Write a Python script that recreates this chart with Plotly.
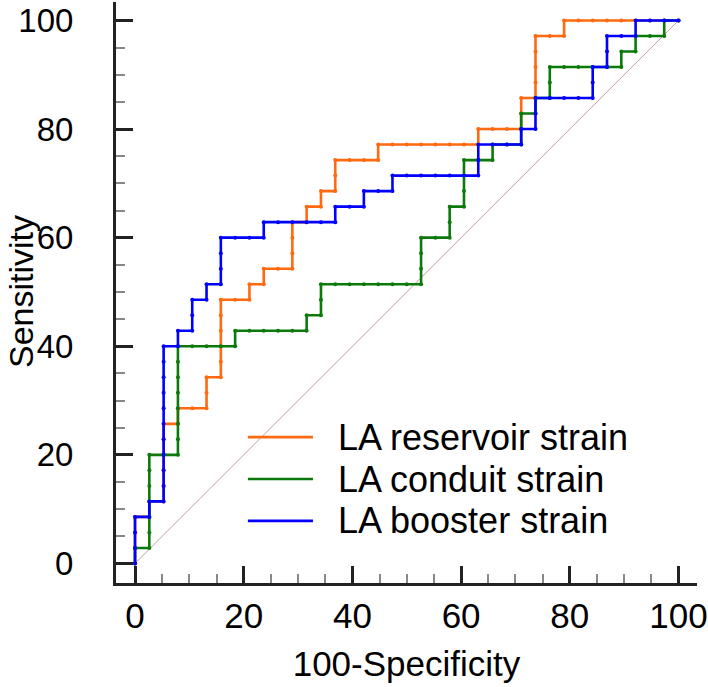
import plotly.graph_objects as go

# ROC data: counts of false positives (of 38 negatives) and true positives (of 35 positives)
n_negative = 38
n_positive = 35

series_names = ["LA reservoir strain", "LA conduit strain", "LA booster strain"]
series_colors = ["#ff6a10", "#0b7a0b", "#0000ff"]

reservoir_fp = [0, 0, 0, 0, 1, 1, 2, 2, 2, 2, 2, 2, 3, 3, 4, 5, 5, 5,
                6, 6, 6, 6, 6, 6, 7, 8, 8, 9, 9, 10, 11, 11, 11, 11, 12, 12, 13, 13,
                14, 14, 14, 15, 16, 17, 17, 18, 19, 20, 21, 22, 23, 24, 24,
                25, 26, 27, 27, 27, 28, 28, 28, 28, 28, 29, 30, 30,
                31, 32, 33, 34, 35, 36, 37, 38]
reservoir_tp = [0, 1, 2, 3, 3, 4, 4, 5, 6, 7, 8, 9, 9, 10, 10, 10, 11, 12,
                12, 13, 14, 15, 16, 17, 17, 17, 18, 18, 19, 19, 19, 20, 21, 22, 22, 23, 23, 24,
                24, 25, 26, 26, 26, 26, 27, 27, 27, 27, 27, 27, 27, 27, 28,
                28, 28, 28, 29, 30, 30, 31, 32, 33, 34, 34, 34, 35,
                35, 35, 35, 35, 35, 35, 35, 35]

conduit_fp = [0, 0, 1, 1, 1, 1, 1, 1, 1, 2, 3, 3, 3, 3, 3, 3, 3, 3,
              4, 5, 6, 7, 7, 8, 9, 10, 11, 12, 12, 13, 13, 13,
              14, 15, 16, 17, 18, 19, 20, 20, 20, 20, 21, 22, 22, 22,
              23, 23, 23, 23, 24, 25, 25, 26, 27, 27, 27, 28, 28,
              29, 29, 29, 30, 31, 32, 33, 34, 34, 35, 35, 36, 37, 37, 38]
conduit_tp = [0, 1, 1, 2, 3, 4, 5, 6, 7, 7, 7, 8, 9, 10, 11, 12, 13, 14,
              14, 14, 14, 14, 15, 15, 15, 15, 15, 15, 16, 16, 17, 18,
              18, 18, 18, 18, 18, 18, 18, 19, 20, 21, 21, 21, 22, 23,
              23, 24, 25, 26, 26, 26, 27, 27, 27, 28, 29, 29, 30,
              30, 31, 32, 32, 32, 32, 32, 32, 33, 33, 34, 34, 34, 35, 35]

booster_fp = [0, 0, 0, 0, 1, 1, 2, 2, 2, 2, 2, 2, 2, 2, 2, 2, 2, 3, 3, 4, 4, 4,
              5, 5, 6, 6, 6, 6, 7, 8, 9, 9, 10, 11, 12, 13, 14, 14, 15, 16, 16,
              17, 18, 18, 19, 20, 21, 22, 23, 24, 24, 24, 25, 26, 27, 27,
              28, 28, 28, 29, 30, 31, 32, 32, 32, 33, 33, 33, 34, 35, 35, 36, 37, 38]
booster_tp = [0, 1, 2, 3, 3, 4, 4, 5, 6, 7, 8, 9, 10, 11, 12, 13, 14, 14, 15, 15, 16, 17,
              17, 18, 18, 19, 20, 21, 21, 21, 21, 22, 22, 22, 22, 22, 22, 23, 23, 23, 24,
              24, 24, 25, 25, 25, 25, 25, 25, 25, 26, 27, 27, 27, 27, 28,
              28, 29, 30, 30, 30, 30, 30, 31, 32, 32, 33, 34, 34, 34, 35, 35, 35, 35]

diagonal = [0, 100]

x_ticks = [0, 20, 40, 60, 80, 100]
y_ticks = [0, 20, 40, 60, 80, 100]
x_title = "100-Specificity"
y_title = "Sensitivity"

FONT = "Liberation Sans, Arial, sans-serif"

fig = go.Figure()
fig.add_trace(go.Scatter(x=diagonal, y=diagonal, mode="lines",
                         line=dict(color="#c49a9a", width=1), showlegend=False,
                         hoverinfo="skip"))

for name, color, fp, tp in [
    (series_names[0], series_colors[0], reservoir_fp, reservoir_tp),
    (series_names[1], series_colors[1], conduit_fp, conduit_tp),
    (series_names[2], series_colors[2], booster_fp, booster_tp),
]:
    fig.add_trace(go.Scatter(
        x=[100 * v / n_negative for v in fp],
        y=[100 * v / n_positive for v in tp],
        mode="lines+markers", name=name,
        line=dict(color=color, width=2.6),
        marker=dict(color=color, size=4),
        showlegend=False,
    ))

# legend drawn as line samples + text
legend_y = [0.251, 0.179, 0.107]
for name, color, yy in zip(series_names, series_colors, legend_y):
    fig.add_shape(type="line", xref="paper", yref="paper",
                  x0=0.227, x1=0.339, y0=yy, y1=yy,
                  line=dict(color=color, width=2.6))
    fig.add_annotation(xref="paper", yref="paper", x=0.378, y=yy,
                       text=name, showarrow=False, xanchor="left", yanchor="middle",
                       font=dict(family=FONT, size=36, color="black"))

# y-axis title placed explicitly
fig.add_annotation(xref="paper", yref="paper", x=-0.1634, y=0.501,
                   text=y_title, textangle=-90, showarrow=False,
                   xanchor="center", yanchor="middle",
                   font=dict(family=FONT, size=34, color="black"))

axis_common = dict(
    showgrid=False, zeroline=False, showline=True, linecolor="#222222", linewidth=3,
    ticks="inside", ticklen=17, tickwidth=3, tickcolor="#222222",
    minor=dict(ticks="inside", ticklen=9, tickwidth=1.5, tickcolor="#888888", dtick=5),
    automargin=False, ticklabeloverflow="allow",
)

fig.update_xaxes(range=[-3.5, 103.4], tickvals=x_ticks, ticktext=[str(v) for v in x_ticks],
                 ticklabelstandoff=0,
                 tickfont=dict(family=FONT, size=35, color="black"),
                 title=dict(text=x_title, font=dict(family=FONT, size=35, color="black"), standoff=18),
                 **axis_common)
fig.update_yaxes(range=[-3.6, 103.4], tickvals=y_ticks, ticktext=[str(v) for v in y_ticks],
                 ticklabelstandoff=33,
                 tickfont=dict(family=FONT, size=33, color="black"),
                 **axis_common)

fig.update_layout(
    width=708, height=687,
    margin=dict(l=116, r=10.5, t=2, b=104),
    plot_bgcolor="white", paper_bgcolor="white",
    showlegend=False,
)

fig.write_html("out.html", config={"displayModeBar": False},
               post_script="document.body.style.margin='0';")
